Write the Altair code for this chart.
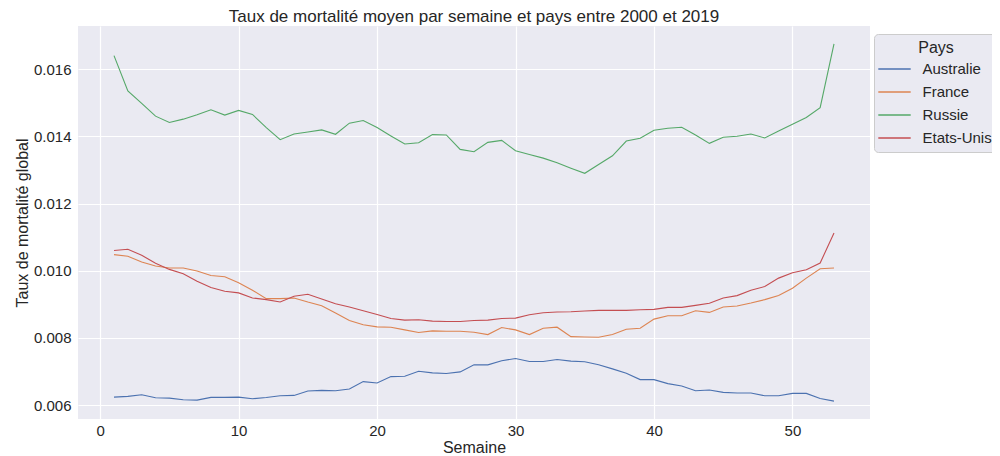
import altair as alt
import pandas as pd

weeks = list(range(1, 54))

australie = [0.00624, 0.00626, 0.00631, 0.00622, 0.00621, 0.00616, 0.00615, 0.00623, 0.00623, 0.00624,
             0.00619, 0.00623, 0.00628, 0.00629, 0.00642, 0.00644, 0.00643, 0.00648, 0.00670, 0.00666,
             0.00685, 0.00686, 0.00701, 0.00696, 0.00694, 0.00699, 0.00720, 0.00720, 0.00732, 0.00739,
             0.00730, 0.00730, 0.00736, 0.00731, 0.00729, 0.00720, 0.00708, 0.00695, 0.00676, 0.00676,
             0.00664, 0.00657, 0.00643, 0.00645, 0.00638, 0.00636, 0.00636, 0.00628, 0.00628, 0.00635,
             0.00635, 0.00620, 0.00612]

france = [0.01048, 0.01043, 0.01026, 0.01014, 0.01008, 0.01008, 0.00999, 0.00986, 0.00982, 0.00964,
          0.00942, 0.00917, 0.00917, 0.00919, 0.00907, 0.00896, 0.00874, 0.00852, 0.00839, 0.00833,
          0.00832, 0.00824, 0.00816, 0.00821, 0.00820, 0.00820, 0.00817, 0.00810, 0.00831, 0.00824,
          0.00810, 0.00829, 0.00832, 0.00804, 0.00803, 0.00802, 0.00810, 0.00826, 0.00829, 0.00856,
          0.00866, 0.00866, 0.00881, 0.00876, 0.00892, 0.00895, 0.00904, 0.00914, 0.00926, 0.00948,
          0.00978, 0.01006, 0.01008]

russie = [0.01640, 0.01535, 0.01498, 0.01460, 0.01441, 0.01451, 0.01464, 0.01479, 0.01463, 0.01477,
          0.01465, 0.01426, 0.01390, 0.01407, 0.01413, 0.01419, 0.01406, 0.01439, 0.01447, 0.01426,
          0.01401, 0.01377, 0.01381, 0.01405, 0.01404, 0.01361, 0.01354, 0.01382, 0.01388, 0.01357,
          0.01346, 0.01335, 0.01321, 0.01305, 0.01290, 0.01316, 0.01342, 0.01386, 0.01394, 0.01418,
          0.01424, 0.01427, 0.01404, 0.01379, 0.01397, 0.01400, 0.01407, 0.01395, 0.01416, 0.01436,
          0.01456, 0.01485, 0.01675]

etats_unis = [0.01060, 0.01064, 0.01046, 0.01022, 0.01004, 0.00991, 0.00969, 0.00950, 0.00939, 0.00934,
              0.00919, 0.00914, 0.00907, 0.00924, 0.00930, 0.00916, 0.00902, 0.00892, 0.00881, 0.00870,
              0.00858, 0.00853, 0.00854, 0.00850, 0.00849, 0.00849, 0.00852, 0.00853, 0.00858, 0.00859,
              0.00869, 0.00875, 0.00877, 0.00878, 0.00880, 0.00882, 0.00882, 0.00882, 0.00884, 0.00885,
              0.00891, 0.00891, 0.00897, 0.00903, 0.00919, 0.00926, 0.00942, 0.00953, 0.00978, 0.00994,
              0.01003, 0.01023, 0.01112]

countries = ["Australie", "France", "Russie", "Etats-Unis"]
colors = ["#4c72b0", "#dd8452", "#55a868", "#c44e52"]
x_ticks = [0, 10, 20, 30, 40, 50]
y_ticks = [0.006, 0.008, 0.010, 0.012, 0.014, 0.016]

series = {"Australie": australie, "France": france, "Russie": russie, "Etats-Unis": etats_unis}
rows = []
for c in countries:
    for w, v in zip(weeks, series[c]):
        rows.append({"Semaine": w, "Taux": v, "Pays": c})
df = pd.DataFrame(rows)

FONT = "Liberation Sans"

chart = alt.Chart(df).mark_line(strokeWidth=1.1).encode(
    x=alt.X("Semaine:Q",
            scale=alt.Scale(domain=[-1.6, 55.6], nice=False, zero=False),
            axis=alt.Axis(values=x_ticks, title="Semaine", format="d")),
    y=alt.Y("Taux:Q",
            scale=alt.Scale(domain=[0.005588, 0.017282], nice=False, zero=False),
            axis=alt.Axis(values=y_ticks, title="Taux de mortalité global", format=".3f")),
    color=alt.Color("Pays:N",
                    scale=alt.Scale(domain=countries, range=colors),
                    sort=countries,
                    legend=alt.Legend(title="Pays", orient="none", legendX=796, legendY=8,
                                      symbolType="M-1.2,0H1.2", symbolSize=729, symbolStrokeWidth=1.3,
                                      labelFontSize=15, titleFontSize=16, titleFontWeight="normal",
                                      titleAnchor="middle", titleAlign="center",
                                      labelFont=FONT, titleFont=FONT,
                                      labelColor="#262626", titleColor="#262626",
                                      fillColor="#eaeaf2", strokeColor="#cccccc", cornerRadius=4,
                                      padding=6, rowPadding=0, labelOffset=13.5, titlePadding=-1.5)),
    detail="Pays:N",
).properties(
    width=792, height=393,
    title=alt.TitleParams("Taux de mortalité moyen par semaine et pays entre 2000 et 2019",
                          font=FONT, fontSize=17, fontWeight="normal", color="#262626",
                          anchor="middle", offset=0),
    padding={"left": 70, "top": 18, "right": 122, "bottom": 37},
    autosize=alt.AutoSizeParams(type="none"),
    background="white",
).configure_view(
    fill="#eaeaf2", stroke=None,
).configure_axis(
    grid=True, gridColor="white", gridWidth=1.2,
    domain=False, ticks=False,
    labelFont=FONT, titleFont=FONT, labelFontSize=15, titleFontSize=16,
    labelColor="#262626", titleColor="#262626", titleFontWeight="normal",
    labelPadding=7,
).configure_axisX(titlePadding=1, labelPadding=4).configure_axisY(titlePadding=3)

chart.save("out.html", embed_options={"renderer": "svg", "actions": False})
